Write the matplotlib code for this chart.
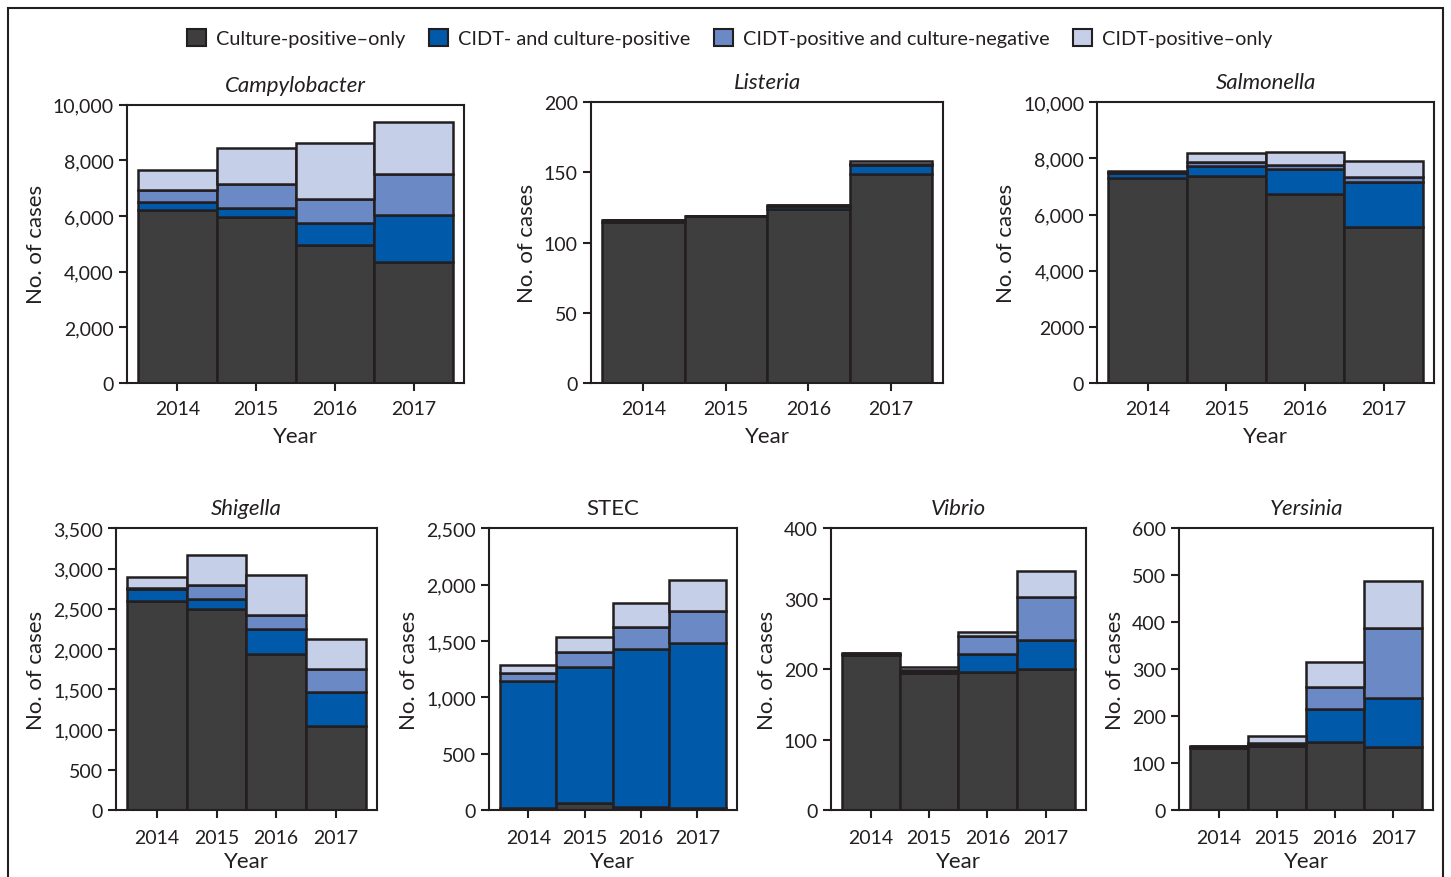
import matplotlib
matplotlib.use("Agg")
import matplotlib.pyplot as plt
from matplotlib.patches import Patch, Rectangle
import numpy as np

plt.rcParams['font.family'] = ['Lato', 'DejaVu Sans']

# ---------------- data ----------------
years = ["2014", "2015", "2016", "2017"]
categories = ["Culture-positive\u2013only", "CIDT- and culture-positive",
              "CIDT-positive and culture-negative", "CIDT-positive\u2013only"]

campy_culture = [6220, 5960, 4970, 4340]
campy_both = [270, 310, 790, 1685]
campy_cidt_neg = [430, 890, 835, 1495]
campy_cidt_only = [730, 1275, 2030, 1865]

listeria_culture = [115, 119, 124, 149]
listeria_both = [1, 0, 2, 6]
listeria_cidt_neg = [0, 0, 1, 1]
listeria_cidt_only = [0, 0, 0, 2]

salmonella_culture = [7305, 7360, 6730, 5560]
salmonella_both = [180, 380, 890, 1615]
salmonella_cidt_neg = [40, 140, 140, 165]
salmonella_cidt_only = [30, 305, 485, 560]

shigella_culture = [2600, 2495, 1935, 1040]
shigella_both = [150, 130, 320, 430]
shigella_cidt_neg = [10, 170, 170, 280]
shigella_cidt_only = [130, 370, 495, 375]

stec_culture = [15, 60, 30, 15]
stec_both = [1130, 1205, 1395, 1470]
stec_cidt_neg = [75, 140, 195, 280]
stec_cidt_only = [70, 130, 220, 275]

vibrio_culture = [220, 194, 196, 200]
vibrio_both = [2, 4, 25, 41]
vibrio_cidt_neg = [1, 1, 26, 61]
vibrio_cidt_only = [0, 4, 6, 38]

yersinia_culture = [133, 137, 144, 134]
yersinia_both = [2, 3, 72, 104]
yersinia_cidt_neg = [1, 3, 47, 150]
yersinia_cidt_only = [1, 14, 53, 100]

campy_ticks = ["0", "2,000", "4,000", "6,000", "8,000", "10,000"]
listeria_ticks = ["0", "50", "100", "150", "200"]
salmonella_ticks = ["0", "2000", "4,000", "6,000", "8,000", "10,000"]
shigella_ticks = ["0", "500", "1,000", "1,500", "2,000", "2,500", "3,000", "3,500"]
stec_ticks = ["0", "500", "1,000", "1,500", "2,000", "2,500"]
vibrio_ticks = ["0", "100", "200", "300", "400"]
yersinia_ticks = ["0", "100", "200", "300", "400", "500", "600"]

campy_tickvals = [0, 2000, 4000, 6000, 8000, 10000]
listeria_tickvals = [0, 50, 100, 150, 200]
salmonella_tickvals = [0, 2000, 4000, 6000, 8000, 10000]
shigella_tickvals = [0, 500, 1000, 1500, 2000, 2500, 3000, 3500]
stec_tickvals = [0, 500, 1000, 1500, 2000, 2500]
vibrio_tickvals = [0, 100, 200, 300, 400]
yersinia_tickvals = [0, 100, 200, 300, 400, 500, 600]

# ---------------- style ----------------
colors = ["#3e3e3e", "#0059a9", "#6a89c5", "#c5cfe8"]
edge = "#231f20"
txt = "#231f20"
W, H = 1451, 878

panels = [
    ("Campylobacter", True, (127, 464, 105.5, 384),
     [campy_culture, campy_both, campy_cidt_neg, campy_cidt_only], campy_tickvals, campy_ticks),
    ("Listeria", True, (591, 943.3, 103.3, 384),
     [listeria_culture, listeria_both, listeria_cidt_neg, listeria_cidt_only], listeria_tickvals, listeria_ticks),
    ("Salmonella", True, (1097.3, 1434, 103.3, 384),
     [salmonella_culture, salmonella_both, salmonella_cidt_neg, salmonella_cidt_only], salmonella_tickvals, salmonella_ticks),
    ("Shigella", True, (116, 376.7, 529.3, 811),
     [shigella_culture, shigella_both, shigella_cidt_neg, shigella_cidt_only], shigella_tickvals, shigella_ticks),
    ("STEC", False, (489, 736.7, 529.3, 811),
     [stec_culture, stec_both, stec_cidt_neg, stec_cidt_only], stec_tickvals, stec_ticks),
    ("Vibrio", True, (831, 1085.7, 529.3, 811),
     [vibrio_culture, vibrio_both, vibrio_cidt_neg, vibrio_cidt_only], vibrio_tickvals, vibrio_ticks),
    ("Yersinia", True, (1179, 1433.3, 529.3, 811),
     [yersinia_culture, yersinia_both, yersinia_cidt_neg, yersinia_cidt_only], yersinia_tickvals, yersinia_ticks),
]

fig = plt.figure(figsize=(W / 100, H / 100), dpi=100)

fs_tick = 14
fs_label = 16
for i, (title, italic, (l, r, t, b), series, tickvals, ticklabels) in enumerate(panels):
    ax = fig.add_axes([l / W, 1 - b / H, (r - l) / W, (b - t) / H])
    x = np.arange(len(years))
    bottom = np.zeros(len(years))
    for vals, c in zip(series, colors):
        ax.bar(x, vals, width=1.0, bottom=bottom, color=c, edgecolor=edge,
               linewidth=1.8, zorder=2)
        bottom += np.array(vals, dtype=float)
    bw = (r - l - 22) / 4.0
    d = 11 / bw
    ax.set_xlim(-0.5 - d, 3.5 + d)
    ax.set_ylim(tickvals[0], tickvals[-1])
    ax.set_yticks(tickvals)
    ax.set_yticklabels(ticklabels)
    ax.set_xticks(x)
    ax.set_xticklabels(years)
    for s in ax.spines.values():
        s.set_linewidth(1.5)
        s.set_color(edge)
    ax.tick_params(axis='both', direction='out', length=5.5, width=1.5,
                   color=edge, labelsize=fs_tick, labelcolor=txt)
    ax.tick_params(axis='y', pad=4)
    ax.tick_params(axis='x', pad=7 if i < 3 else 8)
    ax.set_ylabel("No. of cases", fontsize=fs_label, color=txt, labelpad=5)
    ax.set_xlabel("Year", fontsize=fs_label, color=txt, labelpad=6 if i < 3 else 4)
    ax.set_title(title, fontsize=fs_label, color=txt,
                 style='italic' if italic else 'normal', pad=10)

handles = [Patch(facecolor=c, edgecolor=edge, linewidth=1.5) for c in colors]
fig.legend(handles, categories, loc='center', bbox_to_anchor=(730 / W, 1 - 39 / H),
           ncol=4, frameon=False, fontsize=14.3, handlelength=0.95, handleheight=0.95,
           handletextpad=0.5, columnspacing=1.2, labelcolor=txt)

fig.patches.append(Rectangle((8 / W, -0.05), (1443 - 8) / W, 1 - 9 / H + 0.05,
                             transform=fig.transFigure, fill=False,
                             edgecolor=edge, linewidth=1.5))

fig.savefig("out.png", dpi=100)
